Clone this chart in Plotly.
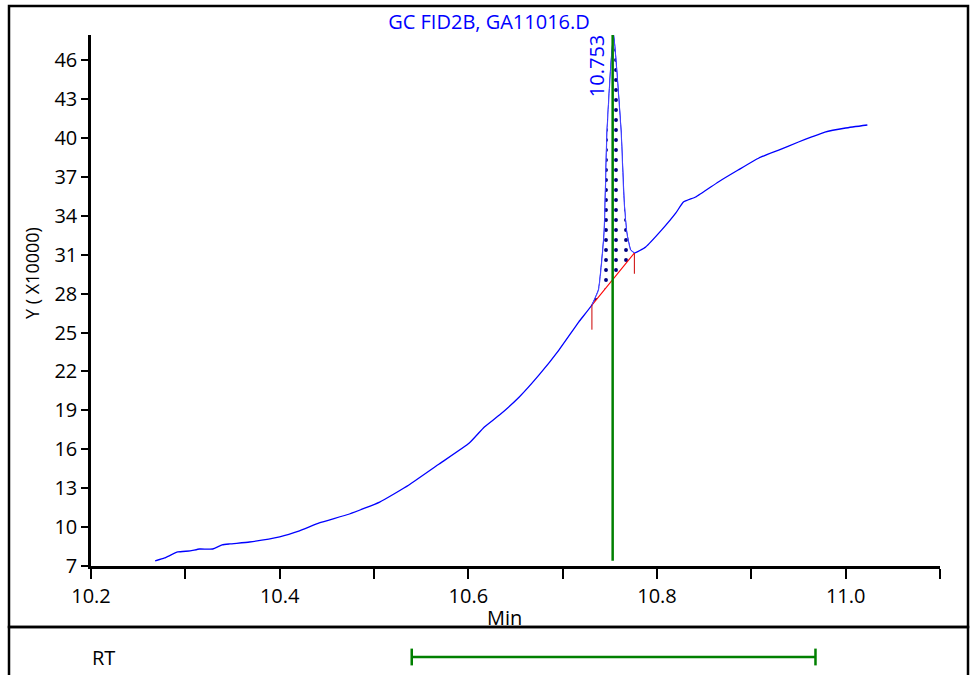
import plotly.graph_objects as go

# chromatogram trace (x in min, y in units of 10000)
time_min = [10.268, 10.278, 10.292, 10.305, 10.315, 10.329, 10.339, 10.347, 10.368,
            10.400, 10.421, 10.442, 10.474, 10.506, 10.537, 10.569, 10.601, 10.617,
            10.633, 10.654, 10.675, 10.696, 10.717, 10.731, 10.738, 10.744, 10.747,
            10.751, 10.754, 10.757, 10.762, 10.765, 10.768, 10.772, 10.776, 10.788,
            10.805, 10.820, 10.828, 10.841, 10.865, 10.886, 10.908, 10.929, 10.950,
            10.964, 10.978, 11.000, 11.023]
signal = [7.39, 7.62, 8.08, 8.16, 8.31, 8.31, 8.62, 8.70, 8.85,
          9.24, 9.70, 10.32, 11.01, 11.93, 13.25, 14.86, 16.48, 17.72,
          18.64, 20.03, 21.73, 23.65, 25.81, 27.12, 28.28, 32.67, 40.38,
          45.47, 47.94, 45.47, 40.38, 35.22, 32.67, 31.36, 31.13, 31.60,
          32.91, 34.22, 35.06, 35.45, 36.61, 37.53, 38.46, 39.07, 39.69,
          40.08, 40.46, 40.77, 41.00]

# integrated peak
peak_rt = 10.753
peak_start = (10.731, 27.12)
peak_end = (10.776, 31.13)
start_tick = 1.9
end_tick = 1.6
rt_window = [10.540, 10.968]

title = "GC FID2B, GA11016.D"
font_main = "Open Sans, Noto Sans, sans-serif"

W, H = 971, 675
L, R, T, B = 91, 31, 35, 0
PW, PH = W - L - R, H - T - B


def px(x):
    return (x - L) / PW


def py(y):
    return (H - y) / PH


main_bottom = py(566)

fig = go.Figure()

# full trace
fig.add_trace(go.Scatter(x=time_min, y=signal, mode="lines",
                         line=dict(color="#0000ff", width=1.3, shape="spline", smoothing=0.4),
                         hoverinfo="skip"))

# baseline + dotted area
fig.add_trace(go.Scatter(x=[peak_start[0], peak_end[0]], y=[peak_start[1], peak_end[1]],
                         mode="lines", line=dict(color="#ff0000", width=1.1)))
seg = [(x, y) for x, y in zip(time_min, signal) if peak_start[0] <= x <= peak_end[0]]
fig.add_trace(go.Scatter(x=[s[0] for s in seg], y=[s[1] for s in seg], mode="lines",
                         line=dict(color="#4040ff", width=1.0, shape="spline", smoothing=0.4),
                         fill="tonexty", fillcolor="white",
                         fillpattern=dict(shape=".", fgcolor="#000080", bgcolor="white",
                                          fgopacity=1, size=10, solidity=0.12)))
# red ticks at integration limits
fig.add_trace(go.Scatter(x=[peak_start[0], peak_start[0], None, peak_end[0], peak_end[0]],
                         y=[peak_start[1], peak_start[1] - start_tick, None,
                            peak_end[1], peak_end[1] - end_tick],
                         mode="lines", line=dict(color="#cc0000", width=1)))

# RT marker
fig.add_trace(go.Scatter(x=[peak_rt, peak_rt], y=[7.4, 47.94], mode="lines",
                         line=dict(color="#008000", width=2.5)))

# RT window (bottom panel)
fig.add_trace(go.Scatter(x=rt_window, y=[0.5, 0.5], xaxis="x2", yaxis="y2",
                         mode="lines+markers",
                         line=dict(color="#008000", width=2.5),
                         marker=dict(symbol="line-ns-open", size=12,
                                     line=dict(color="#008000", width=2.5))))

fig.add_annotation(x=peak_rt, y=47.94, xref="x", yref="y", text="10.753",
                   textangle=-90, showarrow=False, xanchor="right", yanchor="top",
                   xshift=-1, yshift=2, font=dict(family=font_main, size=20, color="#0000ff"))
fig.add_annotation(x=px(504), y=py(617), xref="paper", yref="paper", text="Min",
                   showarrow=False, xanchor="center", yanchor="middle",
                   font=dict(family=font_main, size=20, color="black"))
fig.add_annotation(x=px(32), y=py(273), xref="paper", yref="paper", text="Y ( X10000)",
                   textangle=-90, showarrow=False, xanchor="center", yanchor="middle",
                   font=dict(family=font_main, size=18, color="black"))
fig.add_annotation(x=px(90), y=0.5, xref="paper", yref="y2", text="RT",
                   showarrow=False, xanchor="left", yanchor="middle",
                   font=dict(family=font_main, size=20, color="black"))

# frames
fig.add_shape(type="rect", xref="paper", yref="paper",
              x0=px(9), x1=px(968), y0=py(627), y1=py(6),
              line=dict(color="black", width=2.5))
fig.add_shape(type="rect", xref="paper", yref="paper",
              x0=px(9), x1=px(968), y0=py(700), y1=py(627),
              line=dict(color="black", width=2.5))

fig.update_layout(
    width=W, height=H,
    margin=dict(l=L, r=R, t=T, b=B),
    paper_bgcolor="white", plot_bgcolor="white",
    showlegend=False,
    title=dict(text=title, x=489 / W, xref="container", y=1 - 22 / H,
               yref="container", xanchor="center", yanchor="middle",
               font=dict(family=font_main, size=20, color="#0000ff")),
    xaxis=dict(range=[10.2, 11.1], domain=[0, 1], anchor="y", automargin=False,
               tick0=10.2, dtick=0.2, tickformat=".1f",
               ticks="outside", ticklen=10, tickwidth=2, tickcolor="black",
               minor=dict(dtick=0.1, tick0=10.2, ticks="outside", ticklen=10,
                          tickwidth=2, tickcolor="black"),
               showline=True, linecolor="black", linewidth=2.5,
               showgrid=False, zeroline=False,
               tickfont=dict(family=font_main, size=20, color="black")),
    yaxis=dict(range=[7, 47.94], domain=[main_bottom, 1], anchor="x", automargin=False,
               tickvals=list(range(7, 47, 3)),
               ticks="outside", ticklen=7, tickwidth=2, tickcolor="black",
               showline=True, linecolor="black", linewidth=2.5,
               showgrid=False, zeroline=False,
               tickfont=dict(family=font_main, size=20, color="black")),
    xaxis2=dict(range=[10.2, 11.1], domain=[0, 1], anchor="y2", visible=False),
    yaxis2=dict(range=[0, 1], domain=[0, 36 / PH], anchor="x2", visible=False),
)

# drop the default 8px page margin so the figure fills the window exactly
fig.write_html("out.html", config={"displayModeBar": False},
               post_script="document.body.style.margin='0';"
                           "document.body.style.overflow='hidden';")
